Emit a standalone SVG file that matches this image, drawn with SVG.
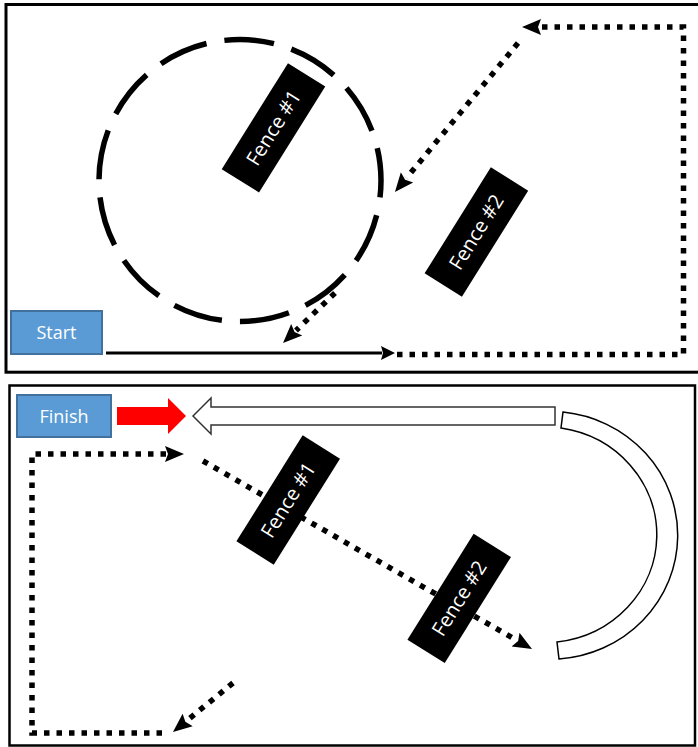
<svg xmlns="http://www.w3.org/2000/svg" width="698" height="747" viewBox="0 0 698 747">
<style>
.frame{fill:none;stroke:#000;stroke-width:3}
.box{fill:#5B9BD5;stroke:#41719C;stroke-width:2}
.boxtxt{font-family:"Open Sans","Liberation Sans",sans-serif;font-size:18px;fill:#fff;text-anchor:middle}
.fence{fill:#000}
.fencetxt{font-family:"Open Sans","Liberation Sans",sans-serif;font-size:20px;fill:#fff;text-anchor:middle}
.dot{fill:none;stroke:#000;stroke-width:5.5;stroke-dasharray:5.5 7;marker-end:url(#ah)}
.solid{fill:none;stroke:#000;stroke-width:3;marker-end:url(#ahs)}
.ring{fill:none;stroke:#000;stroke-width:5.5;stroke-dasharray:50 18.15;stroke-dashoffset:33}
</style>
<defs>
<marker id="ah" markerUnits="userSpaceOnUse" viewBox="-1 -9 20 18" markerWidth="20" markerHeight="18" refX="0" refY="0" orient="auto">
<path d="M-1,-8 L18,0 L-1,8 L2,0 Z" fill="#000"/>
</marker>
<marker id="ahs" markerUnits="userSpaceOnUse" viewBox="-1 -8 15 16" markerWidth="15" markerHeight="16" refX="0" refY="0" orient="auto">
<path d="M-1,-7 L13,0 L-1,7 L1,0 Z" fill="#000"/>
</marker>
</defs>
<rect width="698" height="747" fill="#fff"/>

<g id="top-panel">
<rect class="frame" x="6" y="4.5" width="694" height="367.7"/>
</g>
<g id="bottom-panel">
<rect class="frame" x="9.5" y="385.5" width="685.5" height="360" style="stroke-width:2.5"/>
</g>

<g id="circle-fence">
<circle class="ring" cx="240" cy="180.5" r="141"/>
</g>

<g id="connectors">
<line class="solid" x1="106" y1="353" x2="382" y2="353"/>
<path class="dot" d="M397,354.5 H683.5 V27 H540"/>
<path class="dot" d="M518,43 L406.4,178.1"/>
<path class="dot" d="M335,293 L296,330.5"/>
<path class="dot" d="M162,733 H32 V454 H166"/>
<path class="dot" d="M233,683 L186.9,720.6"/>
<path class="dot" d="M203,461 L516.4,640.1"/>
</g>

<g id="start">
<rect class="box" x="11" y="311" width="91" height="43"/>
<text class="boxtxt" x="56.5" y="339">Start</text>
</g>

<g id="fence1-top" transform="translate(273.5,127.8) rotate(-58)">
<rect class="fence" x="-62.5" y="-22" width="125" height="44"/>
<text class="fencetxt" x="0" y="7">Fence #1</text>
</g>
<g id="fence2-top" transform="translate(476.4,232) rotate(-58)">
<rect class="fence" x="-62.5" y="-22" width="125" height="44"/>
<text class="fencetxt" x="0" y="7">Fence #2</text>
</g>

<g id="finish">
<rect class="box" x="17" y="395" width="94" height="42"/>
<text class="boxtxt" x="64" y="423">Finish</text>
</g>

<g id="red-arrow">
<polygon points="117,407 168,407 168,398 186,416 168,434 168,425 117,425" fill="#FF0000"/>
</g>
<g id="white-arrow">
<polygon points="193,416 211,398 211,407 555,407 555,425 211,425 211,434" fill="#fff" stroke="#333" stroke-width="1.5"/>
</g>
<g id="block-arc">
<path d="M563,412 A128,124 0 0 1 559,659 L557,642 A113,108 0 0 0 561,428 Z" fill="#fff" stroke="#000" stroke-width="1.5"/>
</g>

<g id="fence1-bottom" transform="translate(288.2,500) rotate(-58)">
<rect class="fence" x="-62.5" y="-22" width="125" height="44"/>
<text class="fencetxt" x="0" y="7">Fence #1</text>
</g>
<g id="fence2-bottom" transform="translate(459.2,598.4) rotate(-58)">
<rect class="fence" x="-62.5" y="-22" width="125" height="44"/>
<text class="fencetxt" x="0" y="7">Fence #2</text>
</g>
</svg>
